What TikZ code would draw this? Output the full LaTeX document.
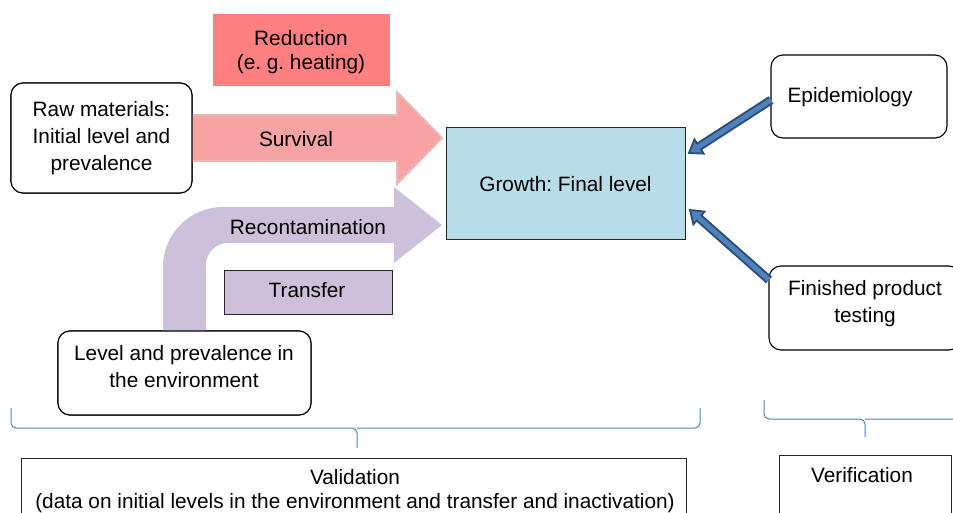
\documentclass[tikz,border=0pt]{standalone}
\usepackage{fontspec}
\setmainfont{Liberation Sans}
\usetikzlibrary{calc,arrows.meta}
\definecolor{redbox}{HTML}{FF8080}
\definecolor{survfill}{HTML}{F7A3A3}
\definecolor{survline}{HTML}{EBB7B7}
\definecolor{lav}{HTML}{CCC0DA}
\definecolor{growthc}{HTML}{B7DEE8}
\definecolor{navyc}{HTML}{2C4D75}
\definecolor{bluec}{HTML}{4F81BD}
\frenchspacing
\begin{document}
\begin{tikzpicture}[x=1pt,y=-1pt,
  font=\fontsize{20.8}{27}\selectfont,
  every node/.style={inner sep=0pt, outer sep=0pt, align=center},
  rbox/.style={draw=black, line width=1.1pt, rounded corners=12pt, fill=white, anchor=north west},
  sbox/.style={draw=black!85, line width=1pt, anchor=north west},
  txt/.style={draw=none, fill=none},
  blockarrow/.style={fill=bluec, draw=navyc, line width=1.8pt, line join=miter},
  brace/.style={draw=bluec, line width=1pt, rounded corners=5pt}
]
\useasboundingbox (0,0) rectangle (953,513);
\clip (0,0) rectangle (953,513);

% boxes
\node[anchor=north west, fill=redbox, minimum width=177pt, minimum height=72pt] (red) at (213,14) {};
\node[txt, font=\fontsize{20.8}{24}\selectfont] (redt) at (301,52) {Reduction\\(e. g. heating)};
\node[rbox, minimum width=181pt, minimum height=110pt] (raw) at (11,83) {};
\node[sbox, fill=growthc, minimum width=239pt, minimum height=112pt] (growth) at (446,128) {Growth: Final level};
\node[sbox, fill=lav, minimum width=168pt, minimum height=44pt] (transfer) at (224,270) {};
\node[txt] (transt) at (307,290) {Transfer};
\node[rbox, minimum width=253pt, minimum height=84pt] (level) at (58,331) {};
\node[rbox, minimum width=176pt, minimum height=83pt] (epi) at (771,55) {};
\node[rbox, minimum width=192pt, minimum height=84pt] (fin) at (769,266) {};
\node[sbox, minimum width=665pt, minimum height=90pt] (valid) at (21,458) {};
\node[sbox, minimum width=172pt, minimum height=90pt] (verif) at (779,455) {};

% block arrows
\filldraw[fill=survfill, draw=survline, line width=2pt]
  ($(raw.east)+(0,-23)$) -- ++(205,0) -- ++(0,-23) -- ++(45,46) -- ++(-45,46)
  -- ++(0,-23) -- ++(-205,0) -- cycle;
\fill[lav]
  ($(level.north)+(-21.5,0)$) -- ++(0,-64) arc[start angle=180, end angle=270, radius=60]
  -- ++(171,0) -- ++(0,-20) -- ++(48,38) -- ++(-48,38) -- ++(0,-20) -- ++(-166,0)
  arc[start angle=270, end angle=180, radius=22] -- ++(0,66) -- cycle;

% redraw boxes on top of the arrows
\node[rbox, minimum width=181pt, minimum height=110pt] (raw2) at (11,83) {Raw materials:\\Initial level and\\prevalence};
\node[rbox, minimum width=253pt, minimum height=84pt] (level2) at (58,331) {};

% texts
\node[txt] (survt) at (296,139) {Survival};
\node[txt] (recont) at (308,227) {Recontamination};
\node[txt] (levelt) at (184,367) {Level and prevalence in\\the environment};
\node[txt] (epit) at (850,97) {Epidemiology};
\node[txt] (fint) at (865,304) {Finished product\\testing};
\node[txt, font=\fontsize{20.8}{23.5}\selectfont] (validt) at (355,491) {Validation\\(data on initial levels in the environment and transfer and inactivation)};
\node[txt] (veriftt) at (862,475) {Verification};

% blue block arrows
\coordinate (t1) at ($(growth.east)+(4,-31)$);
\coordinate (t2) at ($(growth.east)+(5,26)$);
\coordinate (e1) at ($(epi.west)+(0,3.5)$);
\coordinate (e2) at ($(fin.west)+(0,-28)$);
\coordinate (c1) at ($(t1)!12pt!(e1)$);
\coordinate (c2) at ($(t2)!12pt!(e2)$);
\draw[blockarrow]
  ($(e1)!3.5pt!90:(t1)$) -- ($(c1)!3.5pt!-90:(e1)$) -- ($(c1)!8.5pt!-90:(e1)$) -- (t1)
  -- ($(c1)!8.5pt!90:(e1)$) -- ($(c1)!3.5pt!90:(e1)$) -- ($(e1)!3.5pt!-90:(t1)$);
\draw[blockarrow]
  ($(e2)!3.5pt!90:(t2)$) -- ($(c2)!3.5pt!-90:(e2)$) -- ($(c2)!8.5pt!-90:(e2)$) -- (t2)
  -- ($(c2)!8.5pt!90:(e2)$) -- ($(c2)!3.5pt!90:(e2)$) -- ($(e2)!3.5pt!-90:(t2)$);

% braces
\draw[brace] (11,408) |- (357,428) -- (357,448);
\draw[brace] (700,408) |- (357,428);
\draw[brace] (764,400) |- (865,419) -- (865,437);
\draw[brace] (966,400) |- (865,419);
\end{tikzpicture}
\end{document}
